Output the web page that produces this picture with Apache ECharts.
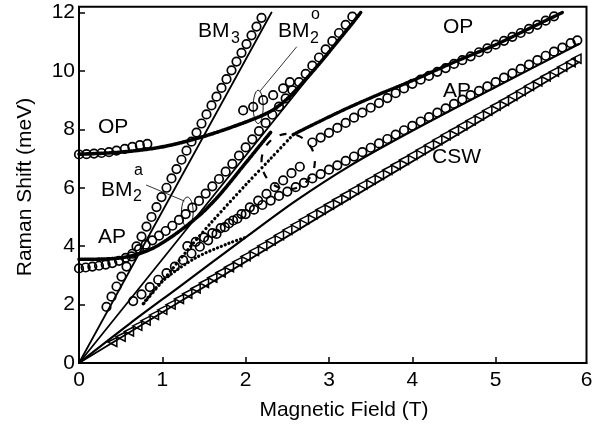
<!DOCTYPE html>
<html>
<head>
<meta charset="utf-8">
<script src="https://cdn.jsdelivr.net/npm/echarts@6/dist/echarts.min.js"></script>
<style>
html, body { margin: 0; padding: 0; background: #fff; }
#chart { width: 598px; height: 426px; }
</style>
</head>
<body>
<div id="chart"></div>
<script>
// axis ticks
var xTicks = [0, 1, 2, 3, 4, 5];
var yTicks = [0, 2, 4, 6, 8, 10, 12];

// solid lines
var bm3Line = [[0, 0], [2.31, 12]];
var bm2Line = [[0, 0], [3.38, 12]];
var cswLine = [[0, 0], [3, 5.2], [6, 10.3]];
var apLine = [[0, 0], [0.61, 1.35], [1.2, 2.6], [2.0, 4.3], [2.6, 5.55], [3.25, 6.75], [4.0, 7.95], [5.0, 9.45], [6.0, 10.92]];

// calculated dots
var opDots = [[0, 7.15], [0.5, 7.22], [1.0, 7.4], [1.5, 7.76], [2.0, 8.25], [2.3, 8.62], [2.5, 9.05], [2.7, 9.65], [2.9, 10.3], [3.1, 11.0], [3.3, 11.7], [3.38, 12]];
var apDots = [[0, 3.55], [0.3, 3.56], [0.5, 3.6], [0.7, 3.72], [0.9, 3.95], [1.1, 4.3], [1.3, 4.72], [1.5, 5.2], [1.7, 5.8], [2.0, 6.85], [2.3, 7.9]];
var midDots = [[0.78, 2.05], [1.0, 2.8], [1.33, 3.96], [1.6, 4.85], [2.0, 6.1], [2.3, 7.0], [2.57, 7.82]];
var opHighDots = [[2.57, 7.82], [2.8, 8.15], [3.2, 8.7], [3.6, 9.2], [4.0, 9.67], [4.5, 10.3], [5.0, 10.9], [5.4, 11.45], [5.8, 12.0]];
var apLowDots = [[0.77, 2.03], [1.0, 2.8], [1.4, 3.6], [1.8, 4.1], [2.0, 4.3]];

// measured points (circles)
var bm3Circ = [[0.33, 1.92], [0.39, 2.27], [0.45, 2.62], [0.51, 2.96], [0.57, 3.3], [0.63, 3.65], [0.69, 3.99], [0.75, 4.33], [0.81, 4.67], [0.87, 5.0], [0.93, 5.34], [0.99, 5.68], [1.05, 6.0], [1.11, 6.32], [1.17, 6.64], [1.23, 6.96], [1.29, 7.27], [1.35, 7.58], [1.41, 7.89], [1.47, 8.2], [1.53, 8.51], [1.59, 8.82], [1.65, 9.12], [1.71, 9.42], [1.77, 9.72], [1.83, 10.02], [1.89, 10.32], [1.95, 10.62], [2.01, 10.92], [2.07, 11.22], [2.13, 11.52], [2.19, 11.82]];
var opCircLow = [[0, 7.14], [0.09, 7.15], [0.18, 7.17], [0.27, 7.19], [0.36, 7.22], [0.45, 7.27], [0.55, 7.33], [0.64, 7.4], [0.73, 7.46], [0.82, 7.5]];
var bm2oCirc = [[1.97, 8.65], [2.09, 8.77], [2.21, 9.0], [2.33, 9.17], [2.45, 9.4], [2.53, 9.62]];
var bundleCirc = [[0, 3.24], [0.08, 3.27], [0.16, 3.3], [0.24, 3.33], [0.32, 3.37], [0.4, 3.42], [0.48, 3.5], [0.56, 3.6], [0.64, 3.74], [0.72, 3.9], [0.8, 4.05], [0.88, 4.2], [0.96, 4.36], [1.04, 4.52], [1.12, 4.7], [1.2, 4.9], [1.28, 5.1], [1.36, 5.32], [1.44, 5.55], [1.52, 5.8], [1.6, 6.05], [1.68, 6.3], [1.76, 6.55], [1.84, 6.82], [1.92, 7.1], [2.0, 7.38], [2.08, 7.66], [2.16, 7.94], [2.24, 8.22], [2.32, 8.5], [2.4, 8.78], [2.48, 9.06], [2.56, 9.34], [2.64, 9.62], [2.72, 9.9], [2.8, 10.18], [2.88, 10.46], [2.96, 10.74], [3.04, 11.02], [3.12, 11.3], [3.2, 11.58], [3.28, 11.86]];
var midCirc = [[0.65, 2.12], [0.75, 2.35], [0.85, 2.6], [0.95, 2.85], [1.05, 3.08], [1.15, 3.3], [1.25, 3.52], [1.35, 3.75], [1.45, 3.98], [1.55, 4.2], [1.65, 4.42], [1.75, 4.65], [1.85, 4.88], [1.95, 5.1], [2.05, 5.33], [2.15, 5.56], [2.25, 5.79], [2.35, 6.02], [2.45, 6.25], [2.55, 6.5], [2.65, 6.72], [2.8, 7.55], [2.9, 7.72], [3.0, 7.88], [3.1, 8.05], [3.2, 8.22], [3.3, 8.4], [3.4, 8.57], [3.5, 8.74], [3.6, 8.9], [3.7, 9.07], [3.8, 9.24], [3.9, 9.4], [4.0, 9.56], [4.1, 9.7], [4.2, 9.83], [4.3, 9.97], [4.4, 10.1], [4.5, 10.24], [4.6, 10.37], [4.7, 10.5], [4.8, 10.64], [4.9, 10.77], [5.0, 10.9], [5.1, 11.03], [5.2, 11.17], [5.3, 11.3], [5.4, 11.44], [5.5, 11.58], [5.6, 11.72], [5.7, 11.87]];
var apCirc = [[1.3, 4.0], [1.4, 4.15], [1.5, 4.3], [1.6, 4.45], [1.7, 4.62], [1.8, 4.78], [1.9, 4.94], [2.0, 5.1], [2.1, 5.25], [2.2, 5.41], [2.3, 5.56], [2.4, 5.72], [2.5, 5.87], [2.6, 6.02], [2.7, 6.17], [2.8, 6.32], [2.9, 6.47], [3.0, 6.62], [3.1, 6.77], [3.2, 6.92], [3.3, 7.07], [3.4, 7.22], [3.5, 7.37], [3.6, 7.52], [3.7, 7.67], [3.8, 7.82], [3.9, 7.97], [4.0, 8.12], [4.1, 8.27], [4.2, 8.42], [4.3, 8.57], [4.4, 8.72], [4.5, 8.87], [4.6, 9.02], [4.7, 9.17], [4.8, 9.32], [4.9, 9.47], [5.0, 9.62], [5.1, 9.77], [5.2, 9.92], [5.3, 10.07], [5.4, 10.22], [5.5, 10.37], [5.6, 10.52], [5.7, 10.66], [5.8, 10.8], [5.9, 10.95], [5.98, 11.05]];
var cswTri = [[0.4, 0.72], [0.5, 0.9], [0.6, 1.08], [0.7, 1.27], [0.8, 1.45], [0.9, 1.64], [1.0, 1.82], [1.1, 2.0], [1.2, 2.19], [1.3, 2.37], [1.4, 2.55], [1.5, 2.74], [1.6, 2.92], [1.7, 3.1], [1.8, 3.28], [1.9, 3.46], [2.0, 3.65], [2.1, 3.83], [2.2, 4.01], [2.3, 4.19], [2.4, 4.37], [2.5, 4.55], [2.6, 4.73], [2.7, 4.91], [2.8, 5.08], [2.9, 5.25], [3.0, 5.42], [3.1, 5.59], [3.2, 5.76], [3.3, 5.93], [3.4, 6.1], [3.5, 6.27], [3.6, 6.44], [3.7, 6.61], [3.8, 6.78], [3.9, 6.95], [4.0, 7.12], [4.1, 7.29], [4.2, 7.46], [4.3, 7.63], [4.4, 7.8], [4.5, 7.96], [4.6, 8.13], [4.7, 8.3], [4.8, 8.47], [4.9, 8.64], [5.0, 8.81], [5.1, 8.97], [5.2, 9.14], [5.3, 9.31], [5.4, 9.48], [5.5, 9.64], [5.6, 9.81], [5.7, 9.97], [5.8, 10.14], [5.9, 10.3], [5.97, 10.42]];

// annotation ellipses [cx, cy, rx(T), ry(meV), dashed]
var ellipses = [[2.15, 8.77, 0.06, 0.57, 0], [1.30, 5.17, 0.07, 0.51, 0], [2.51, 6.9, 0.32, 0.95, 1]];
// pointer lines from labels
var bm2oPointer = [[2.61, 10.82], [2.17, 9.3]];
var bm2aPointer = [[0.81, 6.09], [1.26, 5.55]];

var chart = echarts.init(document.getElementById('chart'), null, {renderer: 'canvas'});
var FONT = 'Liberation Sans, Arial, Helvetica, sans-serif';

function lineSeries(data, width, type, smooth) {
    return {
        type: 'line', data: data, symbol: 'none', smooth: smooth || false, silent: true,
        lineStyle: {color: '#000', width: width, type: type || 'solid', cap: 'round', opacity: 1},
        z: 3
    };
}
function circSeries(data) {
    return {
        type: 'scatter', data: data, symbol: 'circle', symbolSize: 8.5, silent: true,
        itemStyle: {color: 'rgba(255,255,255,0)', borderColor: '#000', borderWidth: 1.7, opacity: 1},
        z: 4
    };
}
function label(text, x, y, size) {
    return {type: 'text', style: {text: text, x: x, y: y, fill: '#000', font: size + 'px ' + FONT, textVerticalAlign: 'middle'}};
}

var option = {
    animation: false,
    backgroundColor: '#fff',
    grid: {left: 79, right: 11.5, top: 6.7, bottom: 63, show: true, borderColor: '#000', borderWidth: 2},
    xAxis: {
        type: 'value', min: 0, max: 6.09,
        axisLine: {show: true, lineStyle: {color: '#000', width: 2}},
        axisTick: {show: true, inside: true, length: 6, lineStyle: {color: '#000', width: 1.5}, customValues: xTicks},
        axisLabel: {color: '#000', fontSize: 21, fontFamily: FONT, margin: 7,
            customValues: xTicks.concat([6.09]),
            formatter: function (v) { return v > 6 ? '6' : String(v); }},
        splitLine: {show: false}
    },
    yAxis: {
        type: 'value', min: 0, max: 12.2,
        axisLine: {show: true, lineStyle: {color: '#000', width: 2}},
        axisTick: {show: true, inside: true, length: 6, lineStyle: {color: '#000', width: 1.5}, customValues: yTicks},
        axisLabel: {color: '#000', fontSize: 21, fontFamily: FONT, margin: 4, customValues: yTicks},
        splitLine: {show: false}
    },
    graphic: [
        {type: 'text', style: {text: 'Magnetic Field (T)', x: 344, y: 410, fill: '#000', font: '21px ' + FONT, textAlign: 'center', textVerticalAlign: 'middle'}},
        {type: 'text', x: 25, y: 187, rotation: Math.PI / 2, style: {text: 'Raman Shift (meV)', fill: '#000', font: '21px ' + FONT, textAlign: 'center', textVerticalAlign: 'middle'}},
        // mode labels
        label('BM', 198, 31, 21), label('3', 231, 39, 16),
        label('BM', 278, 31, 21), label('2', 310, 39, 16), label('o', 311, 15, 16),
        label('OP', 98, 127, 21),
        label('BM', 101, 190, 21), label('2', 133, 197, 16), label('a', 134, 171, 16),
        label('AP', 98, 237, 21),
        label('OP', 443, 27, 21),
        label('AP', 443, 91, 21),
        label('CSW', 432, 157, 21)
    ],
    series: [
        lineSeries(bm3Line, 1.8),
        lineSeries(bm2Line, 1.8),
        lineSeries(cswLine, 1.8),
        lineSeries(apLine, 2.2, 'solid', 0.3),
        lineSeries(opDots, 3.6, [1.5, 1.2], 0.3),
        lineSeries(apDots, 3.6, [1.5, 1.2], 0.3),
        lineSeries(midDots, 3.2, [0.1, 4.5], 0.3),
        lineSeries(opHighDots, 3.4, [1.5, 1.2], 0.3),
        lineSeries(apLowDots, 3.2, [0.1, 4], 0.3),
        lineSeries(bm2oPointer, 0.8),
        lineSeries(bm2aPointer, 0.8),
        circSeries(bm3Circ),
        circSeries(opCircLow),
        circSeries(bm2oCirc),
        circSeries(bundleCirc),
        circSeries(midCirc),
        circSeries(apCirc),
        {
            type: 'scatter', data: cswTri, symbol: 'triangle', symbolSize: [9, 9], symbolRotate: 90, silent: true,
            itemStyle: {color: 'rgba(255,255,255,0)', borderColor: '#000', borderWidth: 1.5, opacity: 1}, z: 4
        },
        {
            type: 'custom', data: ellipses, silent: true, z: 5,
            renderItem: function (params, api) {
                var c = api.coord([api.value(0), api.value(1)]);
                var e = api.coord([api.value(0) + api.value(2), api.value(1) + api.value(3)]);
                var rx = Math.abs(e[0] - c[0]), ry = Math.abs(e[1] - c[1]);
                var dashed = api.value(4) === 1;
                return {
                    type: 'ellipse',
                    shape: {cx: c[0], cy: c[1], rx: rx, ry: ry},
                    style: {fill: null, stroke: '#000', lineWidth: dashed ? 2.2 : 0.9, lineDash: dashed ? [7, 10] : null}
                };
            }
        }
    ]
};
chart.setOption(option);
</script>
</body>
</html>
